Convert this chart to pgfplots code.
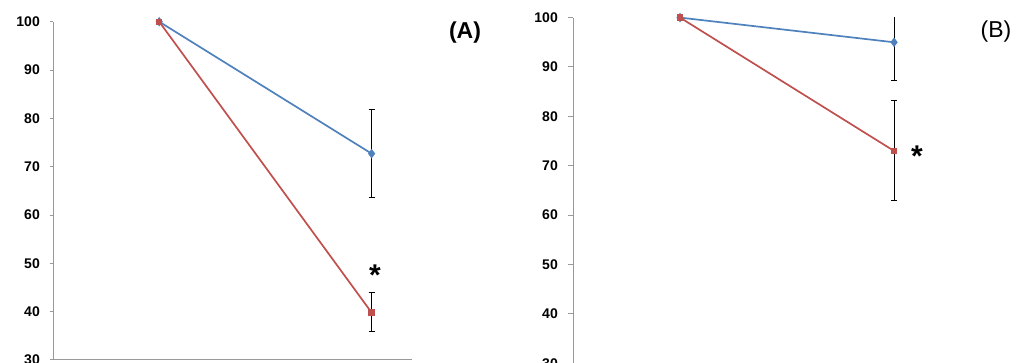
\documentclass[border=0pt]{standalone}
\usepackage{fontspec}
\setmainfont{Liberation Sans}
\usepackage{pgfplots}
\pgfplotsset{compat=1.18}
\definecolor{serA}{HTML}{4F81BD}
\definecolor{serB}{HTML}{C0504D}
\pgfplotsset{
  panel/.style={
    scale only axis, anchor=south west,
    xmin=0.5, xmax=2.19, ymin=30, ymax=100,
    axis x line*=bottom, axis y line*=left,
    axis line style={draw=black!40, line width=1pt},
    xtick=\empty, ytick={30,40,...,100},
    tick align=outside,
    y tick style={draw=black!40, line width=1pt},
    /pgf/number format/assume math mode=true,
    yticklabel style={font=\bfseries\fontsize{14}{14}\selectfont, inner sep=0pt},
  },
  errs/.style={forget plot, draw=none, mark=none,
    error bars/.cd, y dir=both, y explicit,
    error bar style={draw=black, line width=0.8pt},
    error mark options={draw=black, line width=0.8pt, mark size=3pt, rotate=90}},
}
\begin{document}
\begin{tikzpicture}[x=1pt,y=1pt]
\useasboundingbox (0,0) rectangle (1022,363);
\begin{scope}
\clip (0,0) rectangle (1022,363);
% Panel A
\begin{axis}[panel, at={(53pt,3pt)}, width=359pt, height=338.3pt,
  major tick length=3pt, yticklabel style={xshift=-10pt}]
\addplot[errs] coordinates {(2,72.7) +- (0,9.1)};
\addplot[errs] coordinates {(2,39.9) +- (0,4.0)};
\addplot[serA, line width=1.7pt, mark=diamond*, mark size=3.4pt, mark options={fill=serA, draw=serA}] coordinates {(1,100) (2,72.7)};
\addplot[serB, line width=1.7pt, mark=square*, mark size=2.3pt, mark options={fill=serB, draw=serB}] coordinates {(1,100) (2,39.8)};
\node[font=\bfseries\fontsize{30}{30}\selectfont] at (axis cs:2.016,47.5) {*};
\end{axis}
% Panel B
\begin{axis}[panel, at={(573pt,-0.3pt)}, width=361.7pt, height=345.7pt,
  major tick length=5pt, yticklabel style={xshift=-10pt}]
\addplot[errs] coordinates {(2,95.0) +- (0,7.8)};
\addplot[errs] coordinates {(2,73.15) +- (0,10.15)};
\addplot[serA, line width=1.7pt, mark=diamond*, mark size=3.4pt, mark options={fill=serA, draw=serA}] coordinates {(1,100) (2,95.0)};
\addplot[serB, line width=1.7pt, mark=square*, mark size=2.3pt, mark options={fill=serB, draw=serB}] coordinates {(1,100) (2,73.0)};
\node[font=\bfseries\fontsize{30}{30}\selectfont] at (axis cs:2.107,72.0) {*};
\end{axis}
\node[font=\bfseries\fontsize{23}{23}\selectfont] at (465,330) {(A)};
\node[font=\fontsize{23}{23}\selectfont] at (996,331) {(B)};
\end{scope}
\end{tikzpicture}
\end{document}
